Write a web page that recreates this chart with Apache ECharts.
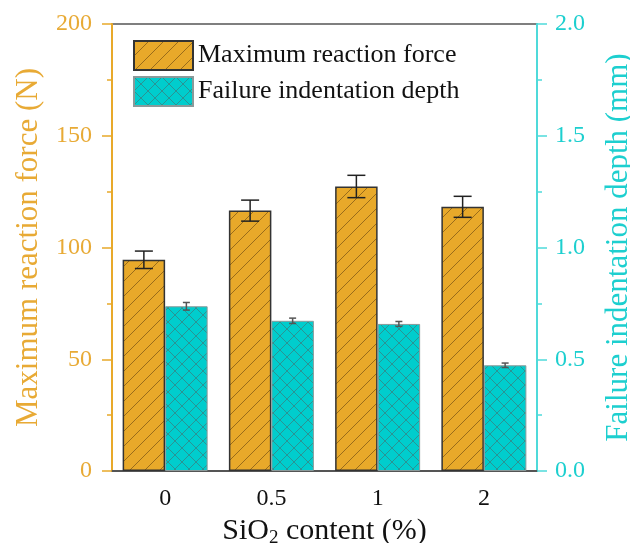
<!DOCTYPE html>
<html>
<head>
<meta charset="utf-8">
<script src="https://cdn.jsdelivr.net/npm/echarts@6/dist/echarts.min.js"></script>
<style>
  html, body { margin: 0; padding: 0; background: #fff; }
  #chart { width: 630px; height: 543px; }
</style>
</head>
<body>
<div id="chart"></div>
<script>
// SiO2 content groups
const categories = ['0', '0.5', '1', '2'];
// Maximum reaction force (N) and its standard deviation
const forceValues = [94.5, 116.5, 127.3, 118.2];
const forceErrors = [3.9, 4.7, 5.0, 4.7];
// Failure indentation depth (mm) and its standard deviation
const depthValues = [0.737, 0.672, 0.658, 0.473];
const depthErrors = [0.017, 0.012, 0.011, 0.010];

const ORANGE = '#E8A92A';
const CYAN = '#00CDCD';
const ORANGE_TEXT = '#E8AA35';
const CYAN_TEXT = '#1DCFCF';
const FONT = '"Liberation Serif", "Times New Roman", serif';

// Single diagonal hatch ("/") tile
function diagonalPattern(fill, stroke, size) {
  const c = document.createElement('canvas');
  c.width = size; c.height = size;
  const g = c.getContext('2d');
  g.fillStyle = fill; g.fillRect(0, 0, size, size);
  g.strokeStyle = stroke; g.lineWidth = 1;
  g.beginPath();
  g.moveTo(0, size); g.lineTo(size, 0);
  g.moveTo(-size / 2, size / 2); g.lineTo(size / 2, -size / 2);
  g.moveTo(size / 2, size * 1.5); g.lineTo(size * 1.5, size / 2);
  g.stroke();
  return c;
}
// Cross hatch ("x") tile
function crossPattern(fill, stroke, size) {
  const c = document.createElement('canvas');
  c.width = size; c.height = size;
  const g = c.getContext('2d');
  g.fillStyle = fill; g.fillRect(0, 0, size, size);
  g.strokeStyle = stroke; g.lineWidth = 1;
  g.beginPath();
  g.moveTo(0, 0); g.lineTo(size, size);
  g.moveTo(0, size); g.lineTo(size, 0);
  g.stroke();
  return c;
}

const orangeFill = { image: diagonalPattern(ORANGE, 'rgba(110,75,20,0.65)', 15), repeat: 'repeat' };
const cyanFill = { image: crossPattern(CYAN, 'rgba(70,110,110,0.6)', 14), repeat: 'repeat' };

// Error bar drawn at a fraction of the category band from its centre
function errorBar(offset, capHalf, color) {
  return function (params, api) {
    const i = api.value(0);
    const v = api.value(1);
    const e = api.value(2);
    const top = api.coord([i, v + e]);
    const bot = api.coord([i, v - e]);
    const band = api.size([1, 0])[0];
    const x = top[0] + offset * band;
    const style = { stroke: color, lineWidth: 1.5 };
    return {
      type: 'group',
      children: [
        { type: 'line', shape: { x1: x, y1: top[1], x2: x, y2: bot[1] }, style },
        { type: 'line', shape: { x1: x - capHalf, y1: top[1], x2: x + capHalf, y2: top[1] }, style },
        { type: 'line', shape: { x1: x - capHalf, y1: bot[1], x2: x + capHalf, y2: bot[1] }, style }
      ]
    };
  };
}

const chart = echarts.init(document.getElementById('chart'), null, { renderer: 'canvas' });

chart.setOption({
  animation: false,
  backgroundColor: '#fff',
  textStyle: { fontFamily: FONT },
  grid: {
    left: 112, right: 93, top: 24, bottom: 72,
    outerBoundsMode: 'none',
    containLabel: false,
    show: true, borderColor: '#555', borderWidth: 1.5, backgroundColor: 'transparent'
  },
  legend: {
    orient: 'vertical',
    left: 128, top: 35,
    itemWidth: 59, itemHeight: 29, itemGap: 5,
    textStyle: { fontFamily: FONT, fontSize: 26, color: '#111' },
    data: [
      { name: 'Maximum reaction force', icon: 'rect' },
      { name: 'Failure indentation depth', icon: 'rect' }
    ]
  },
  xAxis: {
    type: 'category',
    data: categories,
    axisLine: { lineStyle: { color: '#555', width: 2 } },
    axisTick: { show: false },
    axisLabel: { color: '#111', fontSize: 24, fontFamily: FONT, margin: 16 },
    name: 'SiO{sub|2} content (%)',
    nameLocation: 'middle',
    nameGap: 35,
    nameTextStyle: {
      color: '#111', fontSize: 30, fontFamily: FONT,
      rich: { sub: { fontSize: 19, fontFamily: FONT, color: '#111', padding: [14, 0, 0, 0] } }
    }
  },
  yAxis: [
    {
      type: 'value', min: 0, max: 200, interval: 50,
      axisLine: { show: true, lineStyle: { color: ORANGE, width: 2 } },
      axisTick: { show: true, length: 10, lineStyle: { color: ORANGE, width: 1.5 } },
      minorTick: { show: true, splitNumber: 2, length: 5, lineStyle: { color: ORANGE, width: 1.5 } },
      splitLine: { show: false },
      axisLabel: { color: ORANGE_TEXT, fontSize: 24, fontFamily: FONT, margin: 20 },
      name: 'Maximum reaction force (N)',
      nameLocation: 'middle',
      nameGap: 68,
      nameTextStyle: { color: ORANGE_TEXT, fontSize: 31, fontFamily: FONT }
    },
    {
      type: 'value', min: 0, max: 2, interval: 0.5,
      axisLine: { show: true, lineStyle: { color: '#4FDADA', width: 2 } },
      axisTick: { show: true, length: 10, lineStyle: { color: '#4FDADA', width: 1.5 } },
      minorTick: { show: true, splitNumber: 2, length: 5, lineStyle: { color: '#4FDADA', width: 1.5 } },
      splitLine: { show: false },
      axisLabel: {
        color: CYAN_TEXT, fontSize: 24, fontFamily: FONT, margin: 18,
        formatter: v => v.toFixed(1)
      },
      name: 'Failure indentation depth (mm)',
      nameLocation: 'middle',
      nameGap: 66,
      nameRotate: 90,
      nameTextStyle: { color: CYAN_TEXT, fontSize: 31, fontFamily: FONT }
    }
  ],
  series: [
    {
      name: 'Maximum reaction force',
      type: 'bar',
      yAxisIndex: 0,
      data: forceValues,
      barWidth: '40%',
      barGap: '0%',
      itemStyle: { color: orangeFill, borderColor: '#333', borderWidth: 1.5 }
    },
    {
      name: 'Failure indentation depth',
      type: 'bar',
      yAxisIndex: 1,
      data: depthValues,
      barWidth: '40%',
      barGap: '0%',
      itemStyle: { color: cyanFill, borderColor: '#8a9a9a', borderWidth: 1 }
    },
    {
      type: 'custom',
      yAxisIndex: 0,
      z: 5,
      renderItem: errorBar(-0.2, 9, '#222'),
      data: forceValues.map((v, i) => [i, v, forceErrors[i]])
    },
    {
      type: 'custom',
      yAxisIndex: 1,
      z: 5,
      renderItem: errorBar(0.2, 3.5, '#555'),
      data: depthValues.map((v, i) => [i, v, depthErrors[i]])
    }
  ]
});
</script>
</body>
</html>
